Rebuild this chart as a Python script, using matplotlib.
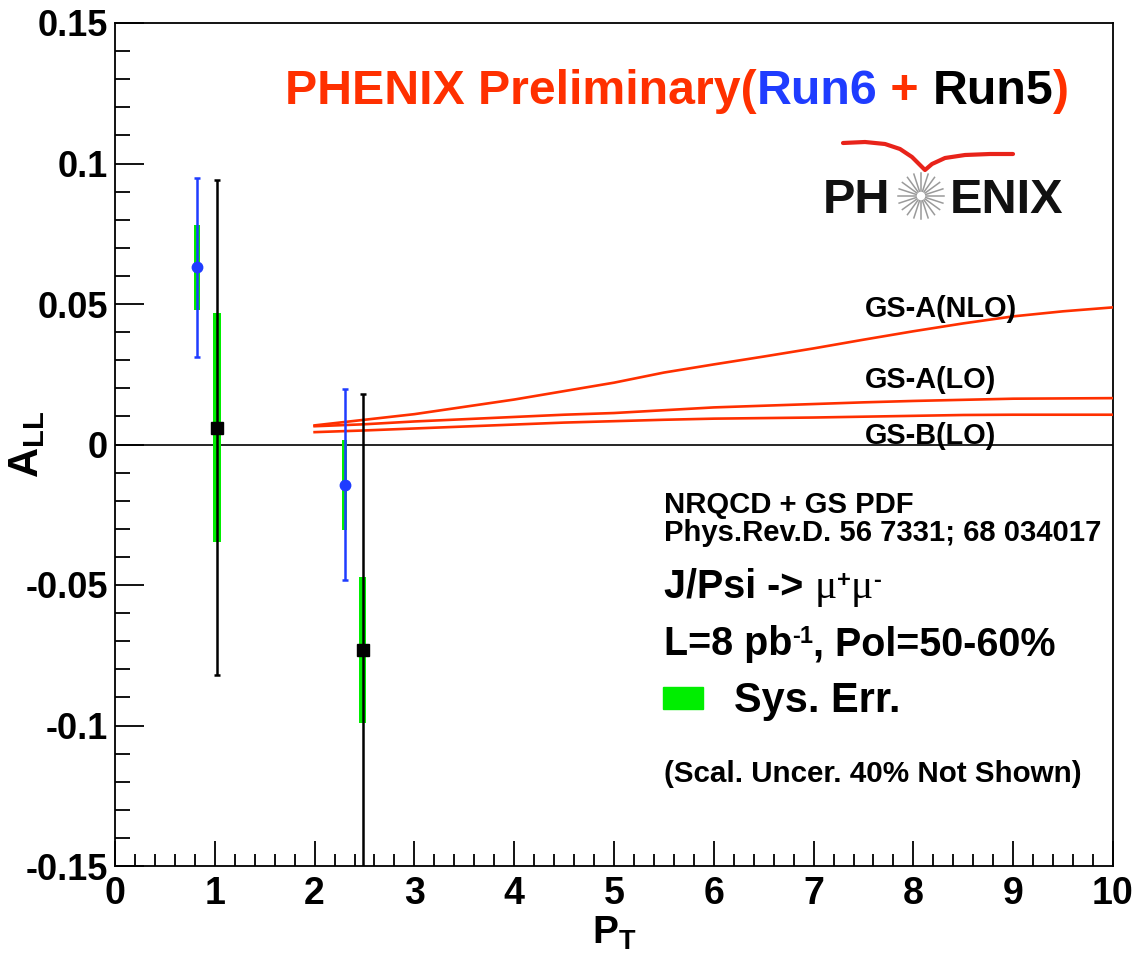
import numpy as np
import matplotlib
matplotlib.use("Agg")
import matplotlib.pyplot as plt
from matplotlib.lines import Line2D
from matplotlib.patches import Rectangle
from matplotlib.ticker import MultipleLocator

plt.rcParams["font.family"] = ["Liberation Sans", "DejaVu Sans"]
plt.rcParams["mathtext.fontset"] = "custom"
plt.rcParams["mathtext.rm"] = "Liberation Sans:bold"
plt.rcParams["mathtext.bf"] = "Liberation Sans:bold"

# Run6 (blue) points
run6_pt = [0.82, 2.30]
run6_all = [0.063, -0.0143]
run6_stat = [0.032, 0.034]
run6_sys = [0.015, 0.016]

# Run5 (black) points
run5_pt = [1.02, 2.48]
run5_all = [0.006, -0.073]
run5_stat = [0.088, 0.091]
run5_sys = [0.0407, 0.026]

# NRQCD + GS PDF predictions
theory_pt = [2.0, 2.5, 3.0, 3.5, 4.0, 4.5, 5.0, 5.5, 6.0, 6.5, 7.0, 7.5, 8.0, 8.5, 9.0, 9.5, 10.0]
gsa_nlo = [0.0068, 0.0088, 0.0108, 0.0134, 0.0160, 0.0190, 0.0220, 0.0256, 0.0285,
           0.0313, 0.0342, 0.0373, 0.0403, 0.0431, 0.0456, 0.0474, 0.0488]
gsa_lo = [0.0065, 0.0072, 0.0082, 0.0090, 0.0098, 0.0106, 0.0112, 0.0122, 0.0132,
          0.0138, 0.0144, 0.0150, 0.0155, 0.0159, 0.0163, 0.0164, 0.0165]
gsb_lo = [0.0044, 0.0050, 0.0057, 0.0064, 0.0071, 0.0078, 0.0083, 0.0088, 0.0092,
          0.0094, 0.0096, 0.0099, 0.0102, 0.0105, 0.0106, 0.0106, 0.0106]

RED = "#ff3000"
BLUE = "#1f3cff"
GREEN = "#00ee00"

W, H = 1137, 956
fig = plt.figure(figsize=(W / 100, H / 100), dpi=100)
ax = fig.add_axes([115 / W, 1 - 866 / H, (1113 - 115) / W, (866 - 23) / H])
renderer = fig.canvas.get_renderer()

# systematic bands
ax.bar(run6_pt, 2 * np.array(run6_sys), bottom=np.array(run6_all) - run6_sys,
       width=0.055, color=GREEN, zorder=2)
ax.bar(run5_pt, 2 * np.array(run5_sys), bottom=np.array(run5_all) - run5_sys,
       width=0.075, color=GREEN, zorder=2)

# theory curves
for vals in (gsa_nlo, gsa_lo, gsb_lo):
    ax.plot(theory_pt, vals, color=RED, lw=1.9, zorder=3)

ax.axhline(0, color="black", lw=1.2, zorder=1)

ax.errorbar(run6_pt, run6_all, yerr=run6_stat, fmt="o", color=BLUE, ms=7.5,
            elinewidth=1.8, capsize=2.5, capthick=1.8, zorder=4)
ax.errorbar(run5_pt, run5_all, yerr=run5_stat, fmt="s", color="black", ms=8,
            elinewidth=1.8, capsize=2.5, capthick=1.8, zorder=4)

ax.set_xlim(0, 10)
ax.set_ylim(-0.15, 0.15)
ax.xaxis.set_major_locator(MultipleLocator(1))
ax.xaxis.set_minor_locator(MultipleLocator(0.2))
ax.yaxis.set_major_locator(MultipleLocator(0.05))
ax.yaxis.set_minor_locator(MultipleLocator(0.01))
ax.set_yticks([-0.15, -0.1, -0.05, 0, 0.05, 0.1, 0.15])
ax.set_yticklabels(["-0.15", "-0.1", "-0.05", "0", "0.05", "0.1", "0.15"])
ax.tick_params(axis="both", which="both", direction="in", top=False, right=False,
               width=1.3, color="black")
ax.tick_params(axis="y", which="major", length=21, pad=5, labelsize=26)
ax.tick_params(axis="y", which="minor", length=11)
ax.tick_params(axis="x", which="major", length=18, pad=7, labelsize=27)
ax.tick_params(axis="x", which="minor", length=9)
for lab in ax.get_yticklabels() + ax.get_xticklabels():
    lab.set_fontweight("bold")
for sp in ax.spines.values():
    sp.set_linewidth(1.3)

ax.set_xlabel(r"$\mathrm{P_T}$", fontsize=28, labelpad=2)
ax.set_ylabel(r"$\mathrm{A_{LL}}$", fontsize=30)
ax.yaxis.set_label_coords(-0.068, 0.5)


def fit_size(s, width_px, **kw):
    t = fig.text(0, 0, s, fontsize=10, **kw)
    w = t.get_window_extent(renderer).width
    t.remove()
    return 10 * width_px / w


def row(x, y, pieces, **kw):
    # pieces: (text, options); x, y in pixels from top-left, y is the baseline
    for s, opts in pieces:
        opts = dict(opts)
        dy = opts.pop("dy", 0)
        t = fig.text(x / W, 1 - (y - dy) / H, s, va="baseline", ha="left",
                     **{**kw, **opts})
        x = t.get_window_extent(renderer).x1
    return x


# title
ts = fit_size("PHENIX Preliminary(Run6 + Run5)", 785, fontweight="bold")
row(285, 104, [("PHENIX Preliminary(", {"color": RED}),
               ("Run6", {"color": BLUE}),
               (" + ", {"color": RED}),
               ("Run5", {"color": "black"}),
               (")", {"color": RED})],
    fontsize=ts, fontweight="bold")

# PHENIX logo
fig.text(890 / W, 1 - 213 / H, "PH", fontsize=35, fontweight="bold",
         ha="right", va="baseline", color="#111111")
fig.text(950 / W, 1 - 213 / H, "ENIX", fontsize=35, fontweight="bold",
         ha="left", va="baseline", color="#111111")
cx, cy, r = 921, 196, 23
for a in np.linspace(0, 2 * np.pi, 20, endpoint=False):
    fig.add_artist(Line2D([(cx + 5 * np.cos(a)) / W, (cx + r * np.cos(a)) / W],
                          [1 - (cy + 5 * np.sin(a)) / H, 1 - (cy + r * np.sin(a)) / H],
                          transform=fig.transFigure, color="#9a9a9a", lw=1.1))
sx = [843, 865, 885, 900, 912, 920, 925, 932, 945, 965, 990, 1013]
sy = [143, 142, 144, 149, 157, 165, 170, 164, 158, 155, 154, 154]
fig.add_artist(Line2D(np.array(sx) / W, 1 - np.array(sy) / H,
                      transform=fig.transFigure, color="#e8231a", lw=3,
                      solid_capstyle="round", solid_joinstyle="round"))

# model labels
ms = fit_size("GS-A(NLO)", 152, fontweight="bold")
for lbl, yb in (("GS-A(NLO)", 317), ("GS-A(LO)", 388), ("GS-B(LO)", 444)):
    fig.text(865 / W, 1 - yb / H, lbl, fontsize=ms, fontweight="bold",
             va="baseline", ha="left")

# info block
s1 = fit_size("Phys.Rev.D. 56 7331; 68 034017", 440, fontweight="bold")
fig.text(664 / W, 1 - 513 / H, "NRQCD + GS PDF", fontsize=s1, fontweight="bold",
         va="baseline")
fig.text(664 / W, 1 - 541 / H, "Phys.Rev.D. 56 7331; 68 034017", fontsize=s1,
         fontweight="bold", va="baseline")

s2 = fit_size("L=8 pb, Pol=50-60%", 372, fontweight="bold")
row(664, 598, [("J/Psi -> ", {"fontweight": "bold"}),
               ("\u03bc", {"family": "Liberation Serif", "fontsize": s2 * 1.05}),
               ("+", {"fontweight": "bold", "fontsize": s2 * 0.6, "dy": 11}),
               ("\u03bc", {"family": "Liberation Serif", "fontsize": s2 * 1.05}),
               ("-", {"fontweight": "bold", "fontsize": s2 * 0.6, "dy": 11})],
    fontsize=s2)
row(664, 655, [("L=8 pb", {}),
               ("-1", {"fontsize": s2 * 0.6, "dy": 12}),
               (", Pol=50-60%", {})],
    fontsize=s2, fontweight="bold")

fig.add_artist(Rectangle((663 / W, 1 - 709 / H), 40 / W, 22 / H,
                         transform=fig.transFigure, color=GREEN))
fig.text(734 / W, 1 - 712 / H, "Sys. Err.", fontsize=s2 * 1.05, fontweight="bold",
         va="baseline")

s3 = fit_size("(Scal. Uncer. 40% Not Shown)", 418, fontweight="bold")
fig.text(664 / W, 1 - 782 / H, "(Scal. Uncer. 40% Not Shown)", fontsize=s3,
         fontweight="bold", va="baseline")

fig.savefig("out.png", dpi=100)
